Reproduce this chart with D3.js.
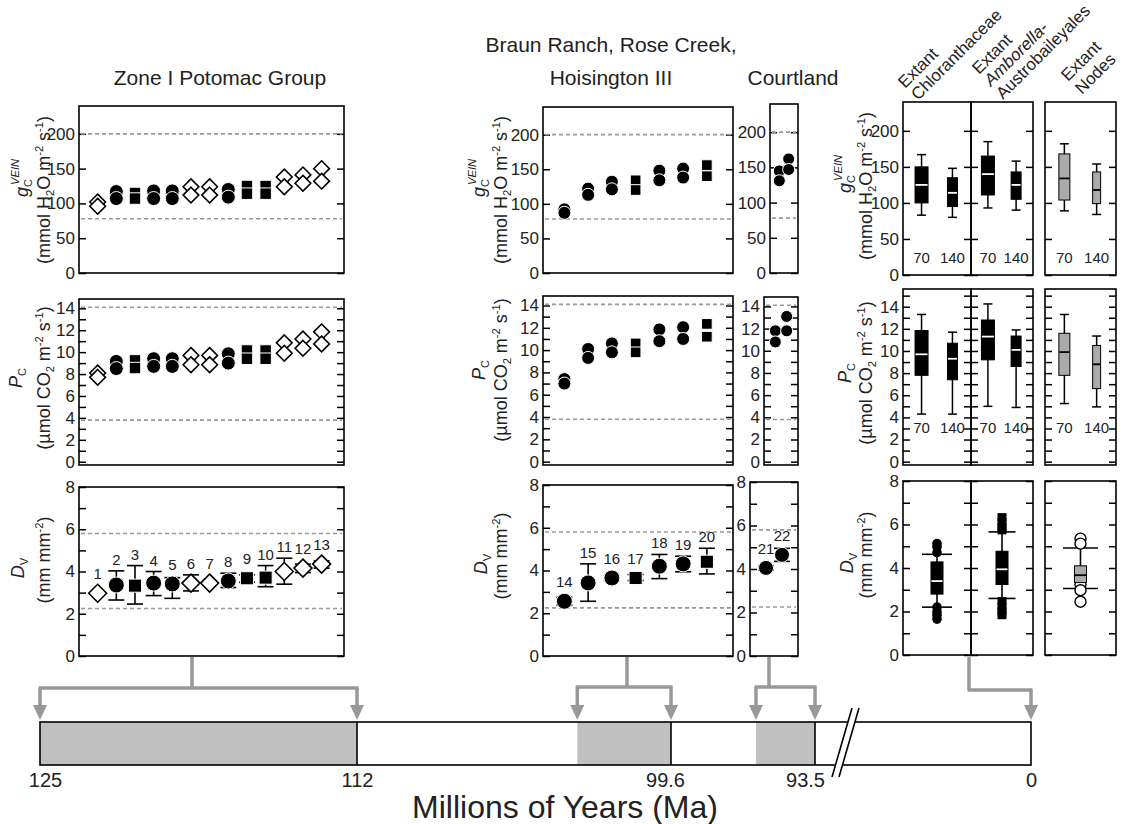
<!DOCTYPE html>
<html>
<head>
<meta charset="utf-8">
<script src="https://cdn.jsdelivr.net/npm/d3@7"></script>
<style>
  body { margin: 0; background: #fff; }
  svg { font-family: "Liberation Sans", Arial, Helvetica, sans-serif; }
</style>
</head>
<body>
<svg width="1127" height="824"></svg>
<script>
const svg = d3.select('svg')
const FONT = '"Liberation Sans", Arial, Helvetica, sans-serif'

// ---------------- data ----------------
// Zone I Potomac Group, sites 1-13
const zoneSites = [1, 2, 3, 4, 5, 6, 7, 8, 9, 10, 11, 12, 13]
const zoneShape = ['diamond', 'circle', 'square', 'circle', 'circle', 'diamond', 'diamond',
                   'circle', 'square', 'square', 'diamond', 'diamond', 'diamond']
const zoneGcHi = [102, 117, 115, 118, 118, 124, 124, 120, 125, 125, 138, 141, 150]
const zoneGcLo = [96, 107, 107, 107, 107, 112, 112, 109, 114, 114, 124, 129, 132]
const zonePcHi = [8.1, 9.15, 9.25, 9.4, 9.4, 9.7, 9.7, 9.85, 10.15, 10.15, 10.85, 11.2, 11.85]
const zonePcLo = [7.7, 8.5, 8.55, 8.7, 8.7, 8.85, 8.85, 9.0, 9.4, 9.4, 9.9, 10.35, 10.75]
const zoneDv   = [2.97, 3.36, 3.33, 3.45, 3.41, 3.45, 3.45, 3.55, 3.68, 3.71, 4.0, 4.16, 4.35]
const zoneDvHi = [null, 4.03, 4.28, 4.0, 3.71, 3.84, null, 3.92, 3.84, 4.28, 4.63, 4.35, 4.5]
const zoneDvLo = [null, 2.65, 2.46, 2.86, 2.73, 3.08, null, 3.24, 3.49, 3.28, 3.4, 3.95, 4.16]

// Braun Ranch, Rose Creek, Hoisington III, sites 14-20
const braunSites = [14, 15, 16, 17, 18, 19, 20]
const braunShape = ['circle', 'circle', 'circle', 'square', 'circle', 'circle', 'square']
const braunGcHi = [92, 122, 132, 134, 148, 151, 156]
const braunGcLo = [87, 113, 121, 120, 134, 138, 140]
const braunPcHi = [7.4, 10.1, 10.6, 10.6, 11.85, 12.05, 12.35]
const braunPcLo = [7.0, 9.3, 9.8, 9.8, 10.8, 11.0, 11.2]
const braunDv   = [2.56, 3.42, 3.65, 3.65, 4.2, 4.31, 4.41]
const braunDvHi = [2.75, 4.31, 3.76, 3.81, 4.75, 4.67, 5.04]
const braunDvLo = [2.37, 2.56, 3.53, 3.53, 3.62, 3.94, 3.84]

// Courtland, sites 21-22
const courtSites = [21, 22]
const courtShape = ['circle', 'circle']
const courtGcHi = [145, 162]
const courtGcLo = [131, 147]
const courtPcHi = [11.8, 13.1]
const courtPcLo = [10.8, 11.8]
const courtDv   = [4.05, 4.65]
const courtDvHi = [4.15, 4.95]
const courtDvLo = [3.95, 4.35]

// extant groups, box plots at 70 and 140 ppm
const boxGroups = ['Chloranthaceae', 'Amborella', 'Nodes']
const boxCo2 = ['70', '140']
// order: Chlor70, Chlor140, Amb70, Amb140, Nodes70, Nodes140
const gcBoxLo  = [83, 80, 93, 90, 89, 84]
const gcBoxQ1  = [100, 95, 111, 105, 104, 99]
const gcBoxMed = [125, 114, 140, 125, 134, 118]
const gcBoxQ3  = [150, 135, 165, 143, 168, 143]
const gcBoxHi  = [167, 148, 185, 158, 182, 154]
const pcBoxLo  = [4.3, 4.3, 5.0, 4.9, 5.25, 4.95]
const pcBoxQ1  = [7.8, 7.4, 9.2, 8.6, 7.8, 6.6]
const pcBoxMed = [9.7, 9.3, 11.3, 10.1, 9.9, 8.8]
const pcBoxQ3  = [11.85, 10.7, 12.8, 11.35, 11.6, 10.5]
const pcBoxHi  = [13.3, 11.7, 14.25, 11.9, 13.3, 11.35]
// vein density, one box per group
const dvBoxLo  = [2.2, 2.6, 3.06]
const dvBoxQ1  = [2.8, 3.24, 3.33]
const dvBoxMed = [3.4, 3.94, 3.67]
const dvBoxQ3  = [4.28, 4.77, 4.1]
const dvBoxHi  = [4.63, 5.66, 4.92]
const dvOutChlor = [4.71, 4.97, 5.12, 2.2, 1.99, 1.83, 1.65]
const dvOutAmb   = [6.34, 6.11, 5.88, 5.73, 2.48, 2.22, 2.02, 1.83]
const dvOutNodes = [5.35, 5.12, 3.24, 2.98, 2.45]

// reference (dashed) lines
const gcRef = [200, 78]
const pcRef = [14.1, 3.8]
const dvRef = [5.8, 2.25]

// axis ticks
const gcTicks = [0, 50, 100, 150, 200]
const pcTicks = d3.range(0, 16)
const pcLabels = [0, 2, 4, 6, 8, 10, 12, 14]
const dvTicks = d3.range(0, 9)
const dvLabels = [0, 2, 4, 6, 8]

// timeline (Ma)
const timeTicks = [125, 112, 99.6, 93.5, 0]
const periods = [[125, 112], [103.3, 99.6], [96.0, 93.5]]
const periodEdges = [112, 99.6, 93.5]
const timeBreak = 92.6

// ---------------- helpers ----------------
function panel(x0, x1, y0, y1, domain, ticks, labels, showLabels) {
  const y = d3.scaleLinear().domain(domain).range([y1, y0])
  const fmt = d => (showLabels && labels.includes(d)) ? d : ''
  const tv = ticks.filter(t => y(t) >= y0 - 0.5 && y(t) <= y1 + 0.5)
  const la = svg.append('g').attr('class', 'ax').attr('transform', `translate(${x0},0)`)
    .call(d3.axisLeft(y).tickValues(tv).tickSizeInner(-7).tickSizeOuter(0).tickPadding(4).tickFormat(fmt))
  const ra = svg.append('g').attr('class', 'ax').attr('transform', `translate(${x1},0)`)
    .call(d3.axisRight(y).tickValues(tv).tickSizeInner(-7).tickSizeOuter(0).tickFormat(''))
  la.select('.domain').remove()
  ra.select('.domain').remove()
  svg.append('rect').attr('x', x0).attr('y', y0).attr('width', x1 - x0).attr('height', y1 - y0)
    .attr('fill', 'none').attr('stroke', '#000').attr('stroke-width', 1.6)
  return y
}

function refLines(x0, x1, y, vals) {
  vals.forEach(v => {
    svg.append('line').attr('x1', x0 + 2).attr('x2', x1 - 2).attr('y1', y(v)).attr('y2', y(v))
      .attr('stroke', '#999').attr('stroke-width', 1.6).attr('stroke-dasharray', '4,3')
  })
}

function marker(shape, cx, cy, s) {
  if (shape === 'circle') {
    svg.append('circle').attr('cx', cx).attr('cy', cy).attr('r', s / 2)
      .attr('fill', '#000').attr('stroke', '#fff').attr('stroke-width', 1)
  } else if (shape === 'square') {
    const w = s * 0.82
    svg.append('rect').attr('x', cx - w / 2).attr('y', cy - w / 2).attr('width', w).attr('height', w)
      .attr('fill', '#000').attr('stroke', '#fff').attr('stroke-width', 1)
  } else {
    const h = s * 0.56
    svg.append('path').attr('d', `M${cx},${cy - h}L${cx + h},${cy}L${cx},${cy + h}L${cx - h},${cy}Z`)
      .attr('fill', '#fff').attr('stroke', '#000').attr('stroke-width', 1.6)
  }
}

function pairs(x, y, sites, shapes, hi, lo, s) {
  sites.forEach((d, i) => {
    marker(shapes[i], x(d), y(hi[i]), s)
    marker(shapes[i], x(d), y(lo[i]), s)
  })
}

function errPoints(x, y, sites, shapes, mean, hi, lo, s) {
  sites.forEach((d, i) => {
    const cx = x(d)
    let top = y(mean[i]) - s / 2
    if (hi[i] != null) {
      const g = svg.append('g').attr('stroke', '#000').attr('stroke-width', 1.6)
      g.append('line').attr('x1', cx).attr('x2', cx).attr('y1', y(lo[i])).attr('y2', y(hi[i]))
      g.append('line').attr('x1', cx - 8).attr('x2', cx + 8).attr('y1', y(lo[i])).attr('y2', y(lo[i]))
      g.append('line').attr('x1', cx - 8).attr('x2', cx + 8).attr('y1', y(hi[i])).attr('y2', y(hi[i]))
      top = Math.min(top, y(hi[i]))
    }
    marker(shapes[i], cx, y(mean[i]), s)
    svg.append('text').attr('x', cx).attr('y', top - 6).attr('text-anchor', 'middle')
      .attr('font-size', 15).attr('fill', '#222').text(d)
  })
}

function box(cx, w, capW, y, q, fill, medColor) {
  const [lo, q1, med, q3, hi] = q
  const g = svg.append('g').attr('stroke', '#000').attr('stroke-width', 1.5)
  g.append('line').attr('x1', cx).attr('x2', cx).attr('y1', y(lo)).attr('y2', y(hi))
  g.append('line').attr('x1', cx - capW / 2).attr('x2', cx + capW / 2).attr('y1', y(lo)).attr('y2', y(lo))
  g.append('line').attr('x1', cx - capW / 2).attr('x2', cx + capW / 2).attr('y1', y(hi)).attr('y2', y(hi))
  g.append('rect').attr('x', cx - w / 2).attr('y', y(q3)).attr('width', w).attr('height', y(q1) - y(q3))
    .attr('fill', fill).attr('stroke-width', 1)
  g.append('line').attr('x1', cx - w / 2 + 0.5).attr('x2', cx + w / 2 - 0.5).attr('y1', y(med)).attr('y2', y(med))
    .attr('stroke', medColor).attr('stroke-width', 1.8)
}

// rich text: parts {t, i, small, shift, dx}
function rich(x, y, parts, size, rotate, anchor) {
  const t = svg.append('text').attr('transform', `translate(${x},${y}) rotate(${rotate})`)
    .attr('text-anchor', anchor).attr('font-size', size).attr('fill', '#222')
  let cur = 0
  parts.forEach(p => {
    const sh = p.shift || 0
    const s = t.append('tspan').text(p.t).attr('dy', sh - cur)
    cur = sh
    if (p.i) s.attr('font-style', 'italic')
    if (p.small) s.attr('font-size', size * 0.62)
    if (p.dx) s.attr('dx', p.dx)
  })
  return t
}

const gcL1 = [{ t: 'g', i: true }, { t: 'C', small: true, shift: 4 }, { t: 'VEIN', small: true, i: true, shift: -9, dx: -6 }, { t: '', shift: 0 }]
const gcL2 = [{ t: '(mmol H' }, { t: '2', small: true, shift: 4 }, { t: 'O m', shift: 0 }, { t: '-2', small: true, shift: -7 },
              { t: ' s', shift: 0 }, { t: '-1', small: true, shift: -7 }, { t: ')', shift: 0 }]
const pcL1 = [{ t: 'P', i: true }, { t: 'C', small: true, shift: 4 }, { t: '', shift: 0 }]
const pcL2 = [{ t: '(\u00b5mol CO' }, { t: '2', small: true, shift: 4 }, { t: ' m', shift: 0 }, { t: '-2', small: true, shift: -7 },
              { t: ' s', shift: 0 }, { t: '-1', small: true, shift: -7 }, { t: ')', shift: 0 }]
const dvL1 = [{ t: 'D', i: true }, { t: 'V', small: true, shift: 4 }, { t: '', shift: 0 }]
const dvL2 = [{ t: '(mm mm' }, { t: '-2', small: true, shift: -7 }, { t: ')', shift: 0 }]

function titles(x1, x2, cyGc, cyPc, cyDv, dx1) {
  rich(x1, cyGc - 12, gcL1, 18, -90, 'middle')
  rich(x2, cyGc, gcL2, 18, -90, 'middle')
  rich(x1 - dx1, cyPc, pcL1, 18, -90, 'middle')
  rich(x2, cyPc, pcL2, 18, -90, 'middle')
  rich(x1 - dx1 + 2, cyDv + 8, dvL1, 18, -90, 'middle')
  rich(x2, cyDv, dvL2, 18, -90, 'middle')
}

// ---------------- Zone I panels ----------------
const zx0 = 79, zx1 = 344
const xZone = d3.scaleLinear().domain([0, 14.2]).range([zx0, zx1])
const yZgc = panel(zx0, zx1, 106, 273, [0, 240], gcTicks, gcTicks, true)
const yZpc = panel(zx0, zx1, 299, 465, [-0.3, 14.85], pcTicks, pcLabels, true)
const yZdv = panel(zx0, zx1, 487, 656, [0, 8], dvTicks, dvLabels, true)
refLines(zx0, zx1, yZgc, gcRef)
refLines(zx0, zx1, yZpc, pcRef)
refLines(zx0, zx1, yZdv, dvRef)
pairs(xZone, yZgc, zoneSites, zoneShape, zoneGcHi, zoneGcLo, 14)
pairs(xZone, yZpc, zoneSites, zoneShape, zonePcHi, zonePcLo, 14)
errPoints(xZone, yZdv, zoneSites, zoneShape, zoneDv, zoneDvHi, zoneDvLo, 16)
titles(28, 50, 190, 378, 560, 6)

// ---------------- Braun Ranch panels ----------------
const bx0 = 543, bx1 = 733
const xBraun = d3.scaleLinear().domain([13.1, 21.1]).range([bx0, bx1])
const yBgc = panel(bx0, bx1, 107, 273, [0, 240], gcTicks, gcTicks, true)
const yBpc = panel(bx0, bx1, 296, 465, [-0.3, 14.85], pcTicks, pcLabels, true)
const yBdv = panel(bx0, bx1, 485, 656, [0, 8], dvTicks, dvLabels, true)
refLines(bx0, bx1, yBgc, gcRef)
refLines(bx0, bx1, yBpc, pcRef)
refLines(bx0, bx1, yBdv, dvRef)
pairs(xBraun, yBgc, braunSites, braunShape, braunGcHi, braunGcLo, 13)
pairs(xBraun, yBpc, braunSites, braunShape, braunPcHi, braunPcLo, 13)
errPoints(xBraun, yBdv, braunSites, braunShape, braunDv, braunDvHi, braunDvLo, 16)
titles(485, 507, 190, 370, 556, 0)

// ---------------- Courtland panels ----------------
const cx1 = 798
const cRows = [[770, 104, 273], [764, 297, 465], [750, 482, 656]]
const xCourtGc = d3.scaleLinear().domain([20, 23]).range([cRows[0][0], cx1])
const xCourtPc = d3.scaleLinear().domain([20, 23]).range([cRows[1][0], cx1])
const xCourtDv = d3.scaleLinear().domain([20, 23]).range([cRows[2][0], cx1])
const yCgc = panel(cRows[0][0], cx1, cRows[0][1], cRows[0][2], [0, 240], gcTicks, gcTicks, true)
const yCpc = panel(cRows[1][0], cx1, cRows[1][1], cRows[1][2], [-0.3, 14.85], pcTicks, pcLabels, true)
const yCdv = panel(cRows[2][0], cx1, cRows[2][1], cRows[2][2], [0, 8], dvTicks, dvLabels, true)
refLines(cRows[0][0], cx1, yCgc, gcRef)
refLines(cRows[1][0], cx1, yCpc, pcRef)
refLines(cRows[2][0], cx1, yCdv, dvRef)
pairs(xCourtGc, yCgc, courtSites, courtShape, courtGcHi, courtGcLo, 12)
pairs(xCourtPc, yCpc, courtSites, courtShape, courtPcHi, courtPcLo, 12)
errPoints(xCourtDv, yCdv, courtSites, courtShape, courtDv, courtDvHi, courtDvLo, 15)

// ---------------- extant box panels ----------------
const groupX = [[903, 971], [971, 1033], [1045, 1116]]
const boxFill = ['#000', '#000', '#aaa']
const medFill = ['#fff', '#fff', '#000']
const boxW = [13, 10]
const rowGc = [102, 275], rowPc = [289, 465], rowDv = [481, 655]
groupX.forEach(([x0, x1], gi) => {
  const first = gi === 0
  const ygc = panel(x0, x1, rowGc[0], rowGc[1], [0, 240], gcTicks, gcTicks, first)
  const ypc = panel(x0, x1, rowPc[0], rowPc[1], [-0.3, 15.6], pcTicks, pcLabels, first)
  const ydv = panel(x0, x1, rowDv[0], rowDv[1], [0, 8], dvTicks, dvLabels, first)
  const xp = d3.scalePoint().domain(boxCo2).range([x0, x1]).padding(0.6)
  boxCo2.forEach((c, ci) => {
    const k = gi * 2 + ci
    const w = gi === 2 ? boxW[ci] - 2 : boxW[ci]
    box(xp(c), w, 9, ygc, [gcBoxLo[k], gcBoxQ1[k], gcBoxMed[k], gcBoxQ3[k], gcBoxHi[k]], boxFill[gi], medFill[gi])
    box(xp(c), w, 9, ypc, [pcBoxLo[k], pcBoxQ1[k], pcBoxMed[k], pcBoxQ3[k], pcBoxHi[k]], boxFill[gi], medFill[gi])
    svg.append('text').attr('x', xp(c)).attr('y', ygc(0) - 12).attr('text-anchor', 'middle')
      .attr('font-size', 15).attr('fill', '#222').text(c)
    svg.append('text').attr('x', xp(c)).attr('y', ypc(2.6)).attr('text-anchor', 'middle')
      .attr('font-size', 15).attr('fill', '#222').text(c)
  })
  // vein density distribution
  const cx = (x0 + x1) / 2
  const capW = [30, 27, 35][gi]
  const q = [dvBoxLo[gi], dvBoxQ1[gi], dvBoxMed[gi], dvBoxQ3[gi], dvBoxHi[gi]]
  const outs = [dvOutChlor, dvOutAmb, dvOutNodes][gi]
  const g = svg.append('g').attr('stroke', '#000').attr('stroke-width', 1.6)
  g.append('line').attr('x1', cx).attr('x2', cx).attr('y1', ydv(q[0])).attr('y2', ydv(q[4]))
  g.append('line').attr('x1', cx - capW / 2).attr('x2', cx + capW / 2).attr('y1', ydv(q[0])).attr('y2', ydv(q[0]))
  g.append('line').attr('x1', cx - capW / 2).attr('x2', cx + capW / 2).attr('y1', ydv(q[4])).attr('y2', ydv(q[4]))
  outs.forEach(v => {
    if (gi === 0) svg.append('circle').attr('cx', cx).attr('cy', ydv(v)).attr('r', 4.8).attr('fill', '#000')
    else if (gi === 1) svg.append('rect').attr('x', cx - 4.5).attr('y', ydv(v) - 4).attr('width', 9).attr('height', 8).attr('fill', '#000')
    else svg.append('circle').attr('cx', cx).attr('cy', ydv(v)).attr('r', 5.5).attr('fill', '#fff').attr('stroke', '#000').attr('stroke-width', 1.4)
  })
  const bw = 12
  svg.append('rect').attr('x', cx - bw / 2).attr('y', ydv(q[3])).attr('width', bw).attr('height', ydv(q[1]) - ydv(q[3]))
    .attr('fill', boxFill[gi]).attr('stroke', '#000').attr('stroke-width', 1)
  svg.append('line').attr('x1', cx - bw / 2 + 0.5).attr('x2', cx + bw / 2 - 0.5).attr('y1', ydv(q[2])).attr('y2', ydv(q[2]))
    .attr('stroke', medFill[gi]).attr('stroke-width', 1.8)
})
titles(851, 872, 186, 373, 555, 0)

// rotated group headers
const headers = [
  [[905, 89, 'Extant', false], [918, 101, 'Chloranthaceae', false]],
  [[979, 75, 'Extant', false], [991, 87, 'Amborella-', true], [1003, 100, 'Austrobaileyales', false]],
  [[1068, 82, 'Extant', false], [1082, 95, 'Nodes', false]]
]
headers.flat().forEach(([x, y, t, it]) => {
  svg.append('text').attr('transform', `translate(${x},${y}) rotate(-45)`).attr('font-size', 17)
    .attr('fill', '#222').attr('font-style', it ? 'italic' : 'normal').text(t)
})

// site titles
const siteTitles = [[220, 85, 'Zone I Potomac Group'], [611, 52, 'Braun Ranch, Rose Creek,'],
                    [611, 85, 'Hoisington III'], [793, 85, 'Courtland']]
siteTitles.forEach(([x, y, t]) => svg.append('text').attr('x', x).attr('y', y).attr('text-anchor', 'middle')
  .attr('font-size', 21).attr('fill', '#222').text(t))

// ---------------- timeline ----------------
const tY0 = 722, tY1 = 765
// the time bar is drawn piecewise (not to scale), with a break after 93.5 Ma
const xTime = d3.scaleLinear().domain([125, 112, 99.6, 93.5, timeBreak, 0]).range([40, 357, 671, 815, 842, 1031])
periods.forEach(([a, b]) => {
  svg.append('rect').attr('x', xTime(a)).attr('y', tY0).attr('width', xTime(b) - xTime(a)).attr('height', tY1 - tY0)
    .attr('fill', '#c0c0c0')
})
svg.append('rect').attr('x', xTime(125)).attr('y', tY0).attr('width', xTime(0) - xTime(125)).attr('height', tY1 - tY0)
  .attr('fill', 'none').attr('stroke', '#000').attr('stroke-width', 1.6)
periodEdges.forEach(v => svg.append('line').attr('x1', xTime(v)).attr('x2', xTime(v)).attr('y1', tY0).attr('y2', tY1)
  .attr('stroke', '#000').attr('stroke-width', 1.6))
// axis break
const bxm = xTime(timeBreak)
svg.append('path').attr('d', `M${bxm - 10},${tY1 + 12}L${bxm + 10},${tY0 - 14}L${bxm + 17},${tY0 - 14}L${bxm - 3},${tY1 + 12}Z`)
  .attr('fill', '#fff')
svg.append('g').attr('stroke', '#000').attr('stroke-width', 1.6).selectAll('line').data([0, 7]).join('line')
  .attr('x1', d => bxm - 10 + d).attr('y1', tY1 + 12).attr('x2', d => bxm + 10 + d).attr('y2', tY0 - 14)
const ta = svg.append('g').attr('class', 'tax').attr('transform', `translate(0,${tY1})`)
  .call(d3.axisBottom(xTime).tickValues(timeTicks).tickSize(0).tickPadding(8).tickFormat(d => d))
ta.select('.domain').remove()
ta.attr('font-size', 20).attr('font-family', FONT)
ta.selectAll('text').attr('dx', d => d === 125 ? 5 : d === 93.5 ? -10 : d === 99.6 ? -6 : 0)
svg.append('text').attr('x', 565).attr('y', 818).attr('text-anchor', 'middle').attr('font-size', 32)
  .attr('fill', '#222').text('Millions of Years (Ma)')

// brackets from panels to timeline
const brackets = [
  { from: 192, at: 688, span: [125, 112], arrows: [125, 112] },
  { from: 627, at: 687, span: [103.3, 99.6], arrows: [103.3, 99.6] },
  { from: 769, at: 687, span: [96.0, 93.5], arrows: [96.0, 93.5] },
  { from: 969, at: 690, span: [null, 0], arrows: [0] }
]
brackets.forEach(b => {
  const g = svg.append('g').attr('stroke', '#999').attr('stroke-width', 3.5).attr('fill', 'none')
  const xa = b.span[0] == null ? b.from : xTime(b.span[0])
  const xb = xTime(b.span[1])
  g.append('line').attr('x1', b.from).attr('x2', b.from).attr('y1', 657).attr('y2', b.at)
  g.append('line').attr('x1', xa - 1.5).attr('x2', xb + 1.5).attr('y1', b.at).attr('y2', b.at)
  b.arrows.forEach(v => {
    const ax = xTime(v)
    g.append('line').attr('x1', ax).attr('x2', ax).attr('y1', b.at).attr('y2', 706)
    svg.append('path').attr('d', `M${ax - 7},${705}L${ax + 7},${705}L${ax},${720}Z`).attr('fill', '#999')
  })
})

// axis styling
svg.selectAll('.ax').attr('font-size', 17).attr('font-family', FONT)
svg.selectAll('.ax line').attr('stroke', '#000').attr('stroke-width', 1.5)
svg.selectAll('.ax text, .tax text').attr('fill', '#222')
</script>
</body>
</html>
